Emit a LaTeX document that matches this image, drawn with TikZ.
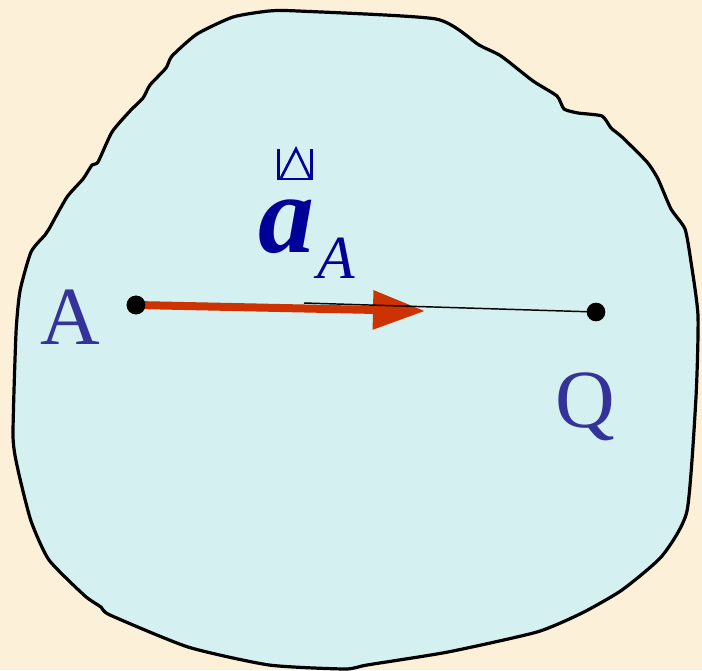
\documentclass[tikz,border=0pt]{standalone}
\usepackage{fontspec}
\setmainfont{Liberation Serif}
\usetikzlibrary{arrows.meta}
\definecolor{bgcream}{HTML}{FDF0D8}
\definecolor{blobfill}{HTML}{D5F0F0}
\definecolor{labelblue}{HTML}{333399}
\definecolor{vecblue}{HTML}{000099}
\definecolor{arrowred}{HTML}{CC3300}
\tikzset{
  blob/.style={fill=blobfill, draw=black, line width=2.4pt, line join=round},
  pointdot/.style={circle, fill=black, inner sep=0pt, minimum size=14pt},
  ptlabel/.style={text=labelblue, inner sep=0pt, anchor=base, font=\fontsize{62}{62}\selectfont},
  veclabel/.style={text=vecblue, inner sep=0pt, anchor=base},
  vecglyph/.style={draw=vecblue, line width=2pt},
  redarrow/.style={draw=arrowred, line width=6pt, -{Triangle[length=39pt,width=28pt]}},
  guide/.style={draw=black, line width=1.1pt}
}
\begin{document}
\begin{tikzpicture}[x=0.75pt,y=-0.75pt]
\fill[bgcream] (0,0) rectangle (702,670);
\useasboundingbox (0,0) rectangle (702,670);
% body outline
\draw[blob] plot[smooth cycle, tension=0.35] coordinates {
 (298,11) (436,19) (479,45) (501,56) (533,81) (557,96) (564,109) (578,113) (602,116)
 (611,128) (622,137) (647,162) (658,179) (671,209) (685,229) (691,262) (698,316)
 (696,397) (687,511) (662,556) (622,590) (582,613) (537,632) (448,652) (367,665)
 (345,669) (269,665) (188,647) (110,615) (101,607) (85,596) (49,560) (31,521)
 (18,470) (13,436) (16,333) (20,291) (31,252) (45,235) (49,229) (67,197) (83,179)
 (92,165) (98,162) (112,132) (130,111) (143,98) (150,85) (166,68) (172,56) (197,34)
 (233,17) (269,11)};
% points
\coordinate (tip) at (425,311);
\coordinate (lstart) at (304,303);
\node[pointdot] (pA) at (136,305) {};
\node[pointdot] (pQ) at (596,312) {};
% arrow and line
\draw[redarrow] (pA.center) -- (tip);
\draw[guide] (lstart) -- (pQ.center);
\node[pointdot] at (pA.center) {};
% labels
\node[ptlabel] (labA) at (70,344) {A};
\node[ptlabel] (labQ) at (585,427) {Q};
\node[veclabel, font=\fontsize{84}{84}\selectfont\bfseries\itshape] (laba) at (286,252) {a};
\node[veclabel, font=\fontsize{46}{46}\selectfont\itshape] (labsub) at (336,278) {A};
% vector sign glyph
\draw[vecglyph] (278.5,149) -- (278.5,179) -- (311.5,179) -- (311.5,149);
\draw[vecglyph, line join=miter] (281,178) -- (296,149) -- (310,178);
\end{tikzpicture}
\end{document}
